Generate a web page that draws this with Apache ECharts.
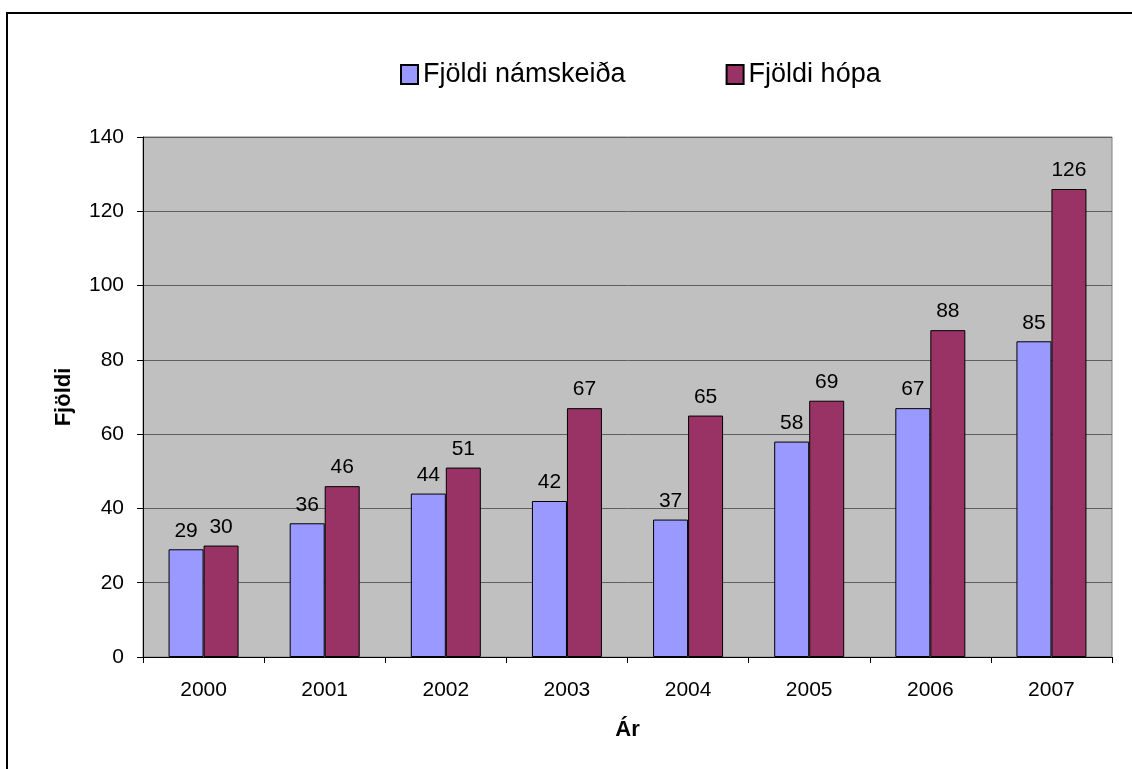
<!DOCTYPE html>
<html>
<head>
<meta charset="utf-8">
<script src="https://cdn.jsdelivr.net/npm/echarts@6/dist/echarts.min.js"></script>
<style>
  html, body { margin: 0; padding: 0; background: #fff; }
  #frame {
    position: absolute;
    left: 6px; top: 12px;
    width: 1126px; height: 757px;
    border-top: 2px solid #000;
    border-left: 2px solid #000;
  }
  #main { position: absolute; left: 0; top: 0; width: 1132px; height: 769px; }
</style>
</head>
<body>
<div id="frame"></div>
<div id="main"></div>
<script>
// ár (categories)
var years = ["2000", "2001", "2002", "2003", "2004", "2005", "2006", "2007"];
// fjöldi námskeiða
var courses = [29, 36, 44, 42, 37, 58, 67, 85];
// fjöldi hópa
var groups = [30, 46, 51, 67, 65, 69, 88, 126];

var font = "'Liberation Sans', Arial, sans-serif";
var chart = echarts.init(document.getElementById("main"));

var labelStyle = {
  show: true,
  position: "top",
  distance: 8,
  color: "#000",
  fontSize: 21,
  fontFamily: font
};

chart.setOption({
  animation: false,
  textStyle: { fontFamily: font },
  legend: {
    left: 395,
    top: 56,
    itemWidth: 17,
    itemHeight: 19,
    itemGap: 100,
    icon: "rect",
    textStyle: { fontSize: 27, color: "#000", fontFamily: font },
    data: ["Fjöldi námskeiða", "Fjöldi hópa"]
  },
  grid: {
    left: 143,
    top: 137,
    right: 20,
    bottom: 112,
    show: true,
    backgroundColor: "#c0c0c0",
    borderColor: "#808080",
    borderWidth: 1
  },
  xAxis: {
    type: "category",
    data: years,
    name: "Ár",
    nameLocation: "middle",
    nameGap: 62,
    nameTextStyle: { fontSize: 22, fontWeight: "bold", color: "#000", fontFamily: font },
    axisLine: { lineStyle: { color: "#000", width: 1 } },
    axisTick: { show: true, length: 6, lineStyle: { color: "#000" } },
    axisLabel: { margin: 23, fontSize: 21, color: "#000", fontFamily: font }
  },
  yAxis: {
    type: "value",
    min: 0,
    max: 140,
    interval: 20,
    name: "Fjöldi",
    nameLocation: "middle",
    nameRotate: 90,
    nameGap: 68,
    nameTextStyle: { fontSize: 22, fontWeight: "bold", color: "#000", fontFamily: font },
    axisLine: { show: true, lineStyle: { color: "#000", width: 1 } },
    axisTick: { show: true, length: 6, lineStyle: { color: "#000" } },
    axisLabel: { margin: 19, fontSize: 21, color: "#000", fontFamily: font },
    splitLine: { show: true, lineStyle: { color: "#606060", width: 1 } }
  },
  series: [
    {
      name: "Fjöldi námskeiða",
      type: "bar",
      data: courses,
      barWidth: 35,
      barGap: "0%",
      itemStyle: { color: "#9999ff", borderColor: "#000", borderWidth: 1 },
      label: labelStyle
    },
    {
      name: "Fjöldi hópa",
      type: "bar",
      data: groups,
      barWidth: 35,
      barGap: "0%",
      itemStyle: { color: "#993366", borderColor: "#000", borderWidth: 1 },
      label: labelStyle
    }
  ]
});
</script>
</body>
</html>
